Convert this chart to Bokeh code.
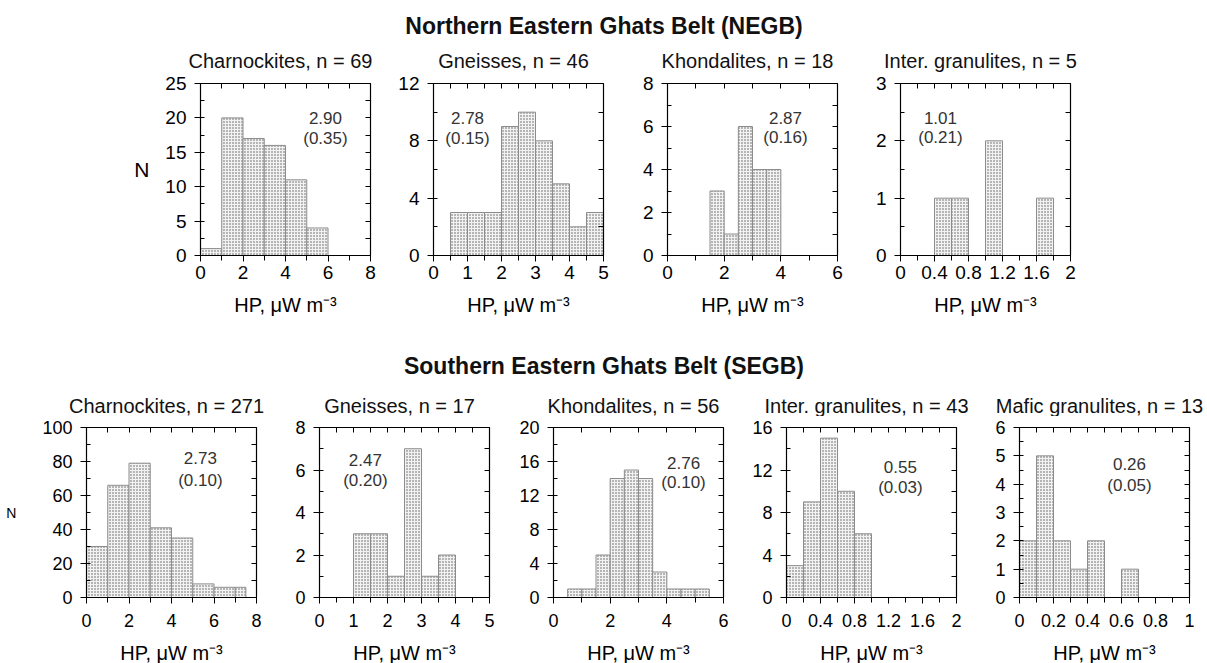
import numpy as np
from bokeh.plotting import figure
from bokeh.layouts import column, row
from bokeh.models import (Range1d, FixedTicker, LinearAxis, CustomJSTickFormatter,
                          CustomLabelingPolicy, LabelSet, ColumnDataSource)
from bokeh.embed import file_html
from bokeh.resources import INLINE
from bokeh.core.properties import value

FONT = "Liberation Sans"
XLABEL = "HP, \u03bcW m\u207b\u00b3"

# ---------------- Northern Eastern Ghats Belt (NEGB) ----------------
negb_title = "Northern Eastern Ghats Belt (NEGB)"
negb_titles = ["Charnockites, n = 69", "Gneisses, n = 46",
               "Khondalites, n = 18", "Inter. granulites, n = 5"]
negb_charn_left = [0, 1, 2, 3, 4, 5]
negb_charn_right = [1, 2, 3, 4, 5, 6]
negb_charn_count = [1, 20, 17, 16, 11, 4]
negb_gneiss_left = [0.5, 1.0, 1.5, 2.0, 2.5, 3.0, 3.5, 4.0, 4.5]
negb_gneiss_right = [1.0, 1.5, 2.0, 2.5, 3.0, 3.5, 4.0, 4.5, 5.0]
negb_gneiss_count = [3, 3, 3, 9, 10, 8, 5, 2, 3]
negb_khond_left = [1.5, 2.0, 2.5, 3.0, 3.5]
negb_khond_right = [2.0, 2.5, 3.0, 3.5, 4.0]
negb_khond_count = [3, 1, 6, 4, 4]
negb_inter_left = [0.4, 0.6, 1.0, 1.6]
negb_inter_right = [0.6, 0.8, 1.2, 1.8]
negb_inter_count = [1, 1, 2, 1]
negb_mean = ["2.90", "2.78", "2.87", "1.01"]
negb_se = ["(0.35)", "(0.15)", "(0.16)", "(0.21)"]
negb_xmax = [8, 5, 6, 2]
negb_ymax = [25, 12, 8, 3]

# ---------------- Southern Eastern Ghats Belt (SEGB) ----------------
segb_title = "Southern Eastern Ghats Belt (SEGB)"
segb_titles = ["Charnockites, n = 271", "Gneisses, n = 17", "Khondalites, n = 56",
               "Inter. granulites, n = 43", "Mafic granulites, n = 13"]
segb_charn_left = [0, 1, 2, 3, 4, 5, 6, 7]
segb_charn_right = [1, 2, 3, 4, 5, 6, 7, 7.5]
segb_charn_count = [30, 66, 79, 41, 35, 8, 6, 6]
segb_gneiss_left = [1.0, 1.5, 2.0, 2.5, 3.0, 3.5]
segb_gneiss_right = [1.5, 2.0, 2.5, 3.0, 3.5, 4.0]
segb_gneiss_count = [3, 3, 1, 7, 1, 2]
segb_khond_left = [0.5, 1.0, 1.5, 2.0, 2.5, 3.0, 3.5, 4.0, 4.5, 5.0]
segb_khond_right = [1.0, 1.5, 2.0, 2.5, 3.0, 3.5, 4.0, 4.5, 5.0, 5.5]
segb_khond_count = [1, 1, 5, 14, 15, 14, 3, 1, 1, 1]
segb_inter_left = [0.0, 0.2, 0.4, 0.6, 0.8]
segb_inter_right = [0.2, 0.4, 0.6, 0.8, 1.0]
segb_inter_count = [3, 9, 15, 10, 6]
segb_mafic_left = [0.0, 0.1, 0.2, 0.3, 0.4, 0.6]
segb_mafic_right = [0.1, 0.2, 0.3, 0.4, 0.5, 0.7]
segb_mafic_count = [2, 5, 2, 1, 2, 1]
segb_mean = ["2.73", "2.47", "2.76", "0.55", "0.26"]
segb_se = ["(0.10)", "(0.20)", "(0.10)", "(0.03)", "(0.05)"]
segb_xmax = [8, 5, 6, 2, 1]
segb_ymax = [100, 8, 20, 16, 6]

# ---------------- styling / layout (not data) ----------------
FW = 170
negb_xstep = [(2, 1), (1, 0.5), (2, 1), (0.4, 0.2)]
negb_ystep = [(5, 2.5), (4, 2), (2, 1), (1, 0.5)]
negb_annot = [(0.735, 0.797, 0.68), (0.20, 0.797, 0.68), (0.694, 0.80, 0.686), (0.235, 0.80, 0.686)]
segb_xstep = [(2, 1), (1, 0.5), (2, 1), (0.4, 0.2), (0.2, 0.1)]
segb_ystep = [(20, 10), (2, 1), (4, 2), (4, 2), (1, 0.5)]
segb_annot = [(0.67, 0.818, 0.688), (0.27, 0.806, 0.688), (0.765, 0.794, 0.676),
              (0.67, 0.77, 0.647), (0.647, 0.788, 0.659)]
top_bl = [200, 49, 50, 49]
top_br = [14, 14, 14, 14]
bot_bl = [86, 49, 50, 49, 49]
bot_br = [14, 14, 14, 14, 18]
TITLE_X = 80 / FW   # title centre as a fraction of the frame width

FMT = "return String(Math.round(tick*1000)/1000);"


def ticks(vmax, step):
    return [float(v) for v in np.round(np.arange(0, vmax + step * 0.01, step), 6)]


def bare_axis(tick_list):
    ax = LinearAxis(ticker=FixedTicker(ticks=tick_list),
                    formatter=CustomJSTickFormatter(code="return '';"),
                    major_label_policy=CustomLabelingPolicy(code="return new Set()"))
    ax.axis_line_color = "black"
    ax.axis_line_width = 1.2
    ax.major_tick_line_color = "black"
    ax.major_label_text_font_size = "0px"
    ax.major_label_standoff = 0
    ax.major_tick_out = 0
    ax.major_tick_in = 5
    ax.minor_tick_line_color = None
    return ax


def panel(left, right, count, xmax, ymax, xst, yst, mean, se, ann,
          fh, bl, br, bt, bb, tick_fs, tick_standoff, xlabel_standoff,
          ylabel, ylabel_fs, ylabel_standoff):
    p = figure(frame_width=FW, frame_height=fh,
               x_range=Range1d(0, xmax), y_range=Range1d(0, ymax),
               x_axis_type=None, y_axis_type=None, title=None,
               output_backend="svg", toolbar_location=None,
               min_border_left=bl, min_border_right=br,
               min_border_top=bt, min_border_bottom=bb,
               outline_line_color=None, background_fill_color="white")
    p.xgrid.visible = False
    p.ygrid.visible = False

    p.quad(left=left, right=right, top=count, bottom=0,
           fill_color="#f2f2f2", line_color="#8c8c8c", line_width=1,
           hatch_pattern="dot", hatch_scale=3, hatch_weight=1.2, hatch_color="#5a5a5a")

    xmaj, xmin = ticks(xmax, xst[0]), ticks(xmax, xst[1])
    ymaj, ymin = ticks(ymax, yst[0]), ticks(ymax, yst[1])

    def style(ax):
        ax.axis_line_color = "black"
        ax.axis_line_width = 1.2
        ax.major_tick_line_color = "black"
        ax.minor_tick_line_color = "black"
        ax.major_label_text_font = FONT
        ax.major_label_text_font_size = tick_fs
        ax.major_label_text_color = "black"
        ax.axis_label_text_font = FONT
        ax.axis_label_text_font_style = "normal"
        ax.axis_label_text_color = "black"

    xb = LinearAxis(ticker=FixedTicker(ticks=xmaj, minor_ticks=xmin),
                    formatter=CustomJSTickFormatter(code=FMT), axis_label=XLABEL)
    style(xb)
    xb.major_tick_out = 6; xb.major_tick_in = 0
    xb.minor_tick_out = 5; xb.minor_tick_in = 0
    xb.major_label_standoff = tick_standoff
    xb.axis_label_text_font_size = "20px"
    xb.axis_label_standoff = xlabel_standoff
    p.add_layout(xb, "below")

    yl = LinearAxis(ticker=FixedTicker(ticks=ymaj, minor_ticks=ymin),
                    formatter=CustomJSTickFormatter(code=FMT),
                    axis_label=ylabel)
    style(yl)
    yl.major_tick_out = 6; yl.major_tick_in = 0
    yl.minor_tick_out = 0; yl.minor_tick_in = 4
    yl.major_label_standoff = 8
    yl.axis_label_orientation = "horizontal"
    yl.axis_label_text_font_size = ylabel_fs
    yl.axis_label_standoff = ylabel_standoff
    p.add_layout(yl, "left")

    p.add_layout(bare_axis(xmin), "above")
    p.add_layout(bare_axis(ymin), "right")

    ax, ay1, ay2 = ann
    p.text(x=[ax * xmax, ax * xmax], y=[ay1 * ymax, ay2 * ymax], text=[mean, se],
           text_align="center", text_baseline="middle",
           text_font=value(FONT), text_font_size="17px", text_color="#333333")
    return p


def header(height, section, section_base, titles, bls, brs, title_base):
    h = figure(frame_width=1207, frame_height=height,
               x_range=Range1d(0, 1207), y_range=Range1d(height, 0),
               x_axis_type=None, y_axis_type=None, output_backend="svg", title=None,
               toolbar_location=None, min_border=0, min_border_left=0, min_border_right=0,
               min_border_top=0, min_border_bottom=0, outline_line_color=None)
    h.xgrid.visible = False
    h.ygrid.visible = False
    xs, x0 = [], 0
    for bl, br in zip(bls, brs):
        xs.append(x0 + bl + FW * TITLE_X)
        x0 += bl + FW + br
    h.scatter(x=xs, y=[title_base] * len(xs), size=0, alpha=0)
    sec = ColumnDataSource(dict(x=[603.5], y=[section_base], t=[section]))
    h.add_layout(LabelSet(x="x", y="y", text="t", source=sec, text_align="center",
                          text_baseline="alphabetic", text_font=value(FONT),
                          text_font_size="23px", text_font_style="bold",
                          text_color="#111111"))
    src = ColumnDataSource(dict(x=xs, y=[title_base] * len(xs), t=titles))
    h.add_layout(LabelSet(x="x", y="y", text="t", source=src, text_align="center",
                          text_baseline="alphabetic", text_font=value(FONT),
                          text_font_size="20px", text_color="#111111"))
    return h


negb_data = [(negb_charn_left, negb_charn_right, negb_charn_count),
             (negb_gneiss_left, negb_gneiss_right, negb_gneiss_count),
             (negb_khond_left, negb_khond_right, negb_khond_count),
             (negb_inter_left, negb_inter_right, negb_inter_count)]
segb_data = [(segb_charn_left, segb_charn_right, segb_charn_count),
             (segb_gneiss_left, segb_gneiss_right, segb_gneiss_count),
             (segb_khond_left, segb_khond_right, segb_khond_count),
             (segb_inter_left, segb_inter_right, segb_inter_count),
             (segb_mafic_left, segb_mafic_right, segb_mafic_count)]

top_figs = []
for i in range(4):
    l, r, c = negb_data[i]
    top_figs.append(panel(l, r, c, negb_xmax[i], negb_ymax[i],
                          negb_xstep[i], negb_ystep[i], negb_mean[i], negb_se[i], negb_annot[i],
                          fh=172, bl=top_bl[i], br=top_br[i], bt=11, bb=97,
                          tick_fs="19px", tick_standoff=4, xlabel_standoff=12,
                          ylabel="N" if i == 0 else None, ylabel_fs="21px",
                          ylabel_standoff=13))

bot_figs = []
for i in range(5):
    l, r, c = segb_data[i]
    bot_figs.append(panel(l, r, c, segb_xmax[i], segb_ymax[i],
                          segb_xstep[i], segb_ystep[i], segb_mean[i], segb_se[i], segb_annot[i],
                          fh=170, bl=bot_bl[i], br=bot_br[i], bt=11, bb=66,
                          tick_fs="18px", tick_standoff=10, xlabel_standoff=12,
                          ylabel="N" if i == 0 else None, ylabel_fs="14px",
                          ylabel_standoff=23))

layout = column(header(72, negb_title, 33, negb_titles, top_bl, top_br, 67),
                row(*top_figs),
                header(64, segb_title, 21, segb_titles, bot_bl, bot_br, 60),
                row(*bot_figs), spacing=0)

open("out.html", "w").write(file_html(layout, INLINE))
